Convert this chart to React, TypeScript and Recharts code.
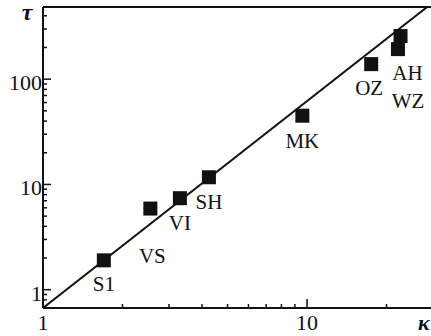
import { ComposedChart, Line, Scatter, XAxis, YAxis, ReferenceLine } from 'recharts';

const names = ['S1', 'VS', 'VI', 'SH', 'MK', 'OZ', 'AH', 'WZ'];
const kappa = [1.7, 2.55, 3.3, 4.25, 9.6, 17.5, 22.6, 22.1];
const tau = [1.9, 5.9, 7.4, 11.7, 45, 139, 257, 193];

// fitted line endpoints
const fitKappa = [1, 28.5];
const fitTau = [0.67, 485];

const xTicks = [1, 2, 3, 4, 5, 6, 7, 8, 9, 10, 20, 30];
const yTicks = [0.8, 0.9, 1, 2, 3, 4, 5, 6, 7, 8, 9, 10, 20, 30, 40, 50, 60, 70, 80, 90, 100, 200, 300, 400];
const xLabels = [1, 10];
const yLabels = [1, 10, 100];

const X_DOMAIN: [number, number] = [1, 30];
const Y_DOMAIN: [number, number] = [0.67, 485];

const INK = '#111';
const FONT = '"Liberation Serif", "Times New Roman", serif';

const points = names.map((name, i) => ({ name, k: kappa[i], t: tau[i] }));
const fitData = fitKappa.map((k, i) => ({ k, t: fitTau[i] }));

// label placement relative to each square (dx, baseline dy)
const labelOffset: Record<string, [number, number]> = {
  S1: [0, 31],
  VS: [2, 54],
  VI: [0, 32],
  SH: [0, 32],
  MK: [0, 32],
  OZ: [-2, 31],
  AH: [7, 44],
  WZ: [10, 59],
};

function XTick({ x, y, payload }: any) {
  const v = payload.value;
  const major = xLabels.includes(v);
  return (
    <g>
      <line x1={x} x2={x} y1={y} y2={y - (major ? 9 : 4)} stroke={INK} strokeWidth={1.5} />
      {major && (
        <text x={x} y={y + 22} textAnchor="middle" fontFamily={FONT} fontSize={22} fill={INK}>
          {v}
        </text>
      )}
    </g>
  );
}

function YTick({ x, y, payload }: any) {
  const v = payload.value;
  const major = yLabels.includes(v);
  return (
    <g>
      <line x1={x} x2={x + (major ? 8 : 4)} y1={y} y2={y} stroke={INK} strokeWidth={1.5} />
      {major && (
        <text x={x - 1} y={y + 11} textAnchor="end" fontFamily={FONT} fontSize={22} fill={INK}>
          {v}
        </text>
      )}
    </g>
  );
}

function SquareMark({ cx, cy, payload }: any) {
  const [dx, dy] = labelOffset[payload.name] || [0, 32];
  return (
    <g>
      <rect x={cx - 7} y={cy - 7} width={14} height={14} fill={INK} />
      <text x={cx + dx} y={cy + dy} textAnchor="middle" fontFamily={FONT} fontSize={21} fill={INK}>
        {payload.name}
      </text>
    </g>
  );
}

export default function App() {
  return (
    <div style={{ position: 'absolute', left: 0, top: 0, width: 431, height: 336, overflow: 'hidden', background: '#fff' }}>
      <ComposedChart width={440} height={336} margin={{ top: 7, right: 7, left: 0, bottom: 0 }}>
        <XAxis
          dataKey="k"
          type="number"
          scale="log"
          domain={X_DOMAIN}
          allowDataOverflow
          ticks={xTicks}
          interval={0}
          height={28}
          tickSize={0}
          tickMargin={0}
          tickLine={false}
          axisLine={{ stroke: INK, strokeWidth: 2 }}
          tick={<XTick />}
        />
        <YAxis
          type="number"
          scale="log"
          domain={Y_DOMAIN}
          allowDataOverflow
          ticks={yTicks}
          interval={0}
          width={43}
          tickSize={0}
          tickMargin={0}
          tickLine={false}
          axisLine={{ stroke: INK, strokeWidth: 2 }}
          tick={<YTick />}
        />
        <ReferenceLine y={Y_DOMAIN[1]} stroke={INK} strokeWidth={2} ifOverflow="visible" />
        <Line
          data={fitData}
          dataKey="t"
          type="linear"
          dot={false}
          stroke={INK}
          strokeWidth={2}
          isAnimationActive={false}
        />
        <Scatter data={points} dataKey="t" shape={<SquareMark />} isAnimationActive={false} />
      </ComposedChart>
      <svg width={431} height={336} style={{ position: 'absolute', left: 0, top: 0, pointerEvents: 'none' }}>
        <text x={27} y={20} textAnchor="middle" fontFamily={FONT} fontSize={24} fontStyle="italic" fontWeight="bold" fill={INK}>
          τ
        </text>
        <text x={418} y={330} fontFamily={FONT} fontSize={22} fontStyle="italic" fontWeight="bold" fill={INK}>
          κ
        </text>
      </svg>
    </div>
  );
}
